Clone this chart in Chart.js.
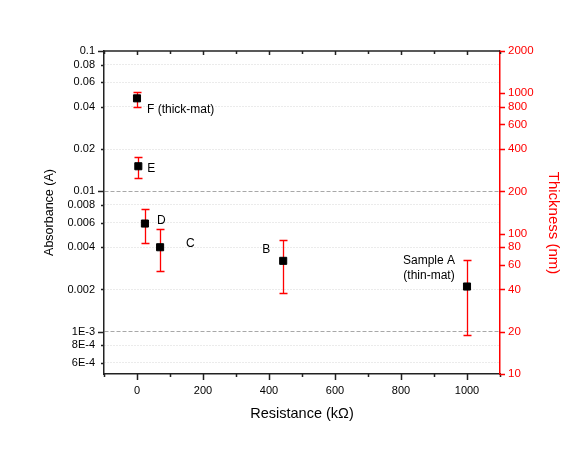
<!DOCTYPE html>
<html>
<head>
<meta charset="utf-8">
<script src="https://cdn.jsdelivr.net/npm/chart.js@4/dist/chart.umd.min.js"></script>
<style>
  html, body { margin: 0; padding: 0; background: #fff; }
  canvas { display: block; }
</style>
</head>
<body>
<canvas id="chart" width="581" height="449"></canvas>
<script>
(function () {
  'use strict';

  // ── Data ──────────────────────────────────────────────────────────────────
  var sampleNames  = ['F (thick-mat)', 'E', 'D', 'C', 'B', 'Sample A|(thin-mat)'];
  var resistance   = [0, 4, 24, 70, 443, 1000];          // kOhm
  var absorbance   = [0.046, 0.0151, 0.0059, 0.0040, 0.0032, 0.0021];
  var thickness    = [910, 300, 118, 81, 64, 42];         // nm
  var thicknessErr = [110, 50, 32, 27, 26, 23];

  var xTickValues = [-100, 0, 100, 200, 300, 400, 500, 600, 700, 800, 900, 1000, 1100];
  var xTickLabels = ['', '0', '', '200', '', '400', '', '600', '', '800', '', '1000', ''];

  var absTickValues = [0.1, 0.08, 0.06, 0.04, 0.02, 0.01, 0.008, 0.006, 0.004, 0.002, 0.001, 0.0008, 0.0006];
  var absTickLabels = ['0.1', '0.08', '0.06', '0.04', '0.02', '0.01', '0.008', '0.006', '0.004', '0.002', '1E-3', '8E-4', '6E-4'];

  var thickTickValues = [2000, 1000, 800, 600, 400, 200, 100, 80, 60, 40, 20, 10];
  var thickTickLabels = ['2000', '1000', '800', '600', '400', '200', '100', '80', '60', '40', '20', '10'];

  // ── Style ─────────────────────────────────────────────────────────────────
  var RED   = '#ff0000';
  var AXIS  = '#222222';
  var FONT  = '"Liberation Sans", Arial, Helvetica, sans-serif';
  // label placement relative to the marker: [dx, dy, align]
  var labelPlace = [[10, 11, 'left'], [9, 2, 'left'], [12, -3, 'left'], [26, -4, 'left'],
                    [-13, -11, 'right'], [-38, -26, 'center']];

  Chart.defaults.font.family = FONT;
  Chart.defaults.color = '#000';

  function isDecade(v) {
    var l = Math.log10(v);
    return Math.abs(l - Math.round(l)) < 1e-6;
  }

  function setTicks(values) {
    return function (scale) {
      scale.ticks = values.map(function (v) { return { value: v }; });
    };
  }

  // ── Plugins: error bars, tick marks, top frame, labels ───────────────────
  var decor = {
    id: 'decor',
    beforeDatasetsDraw: function (chart) {
      var ctx = chart.ctx, x = chart.scales.x, y2 = chart.scales.y2;
      resistance.forEach(function (r, i) {
        var px = Math.round(x.getPixelForValue(r)) + 0.5;
        var top = Math.round(y2.getPixelForValue(thickness[i] + thicknessErr[i])) + 0.5;
        var bot = Math.round(y2.getPixelForValue(thickness[i] - thicknessErr[i])) + 0.5;
        ctx.save();
        ctx.strokeStyle = RED;
        ctx.lineWidth = 1.3;
        ctx.setLineDash([]);
        ctx.beginPath();
        ctx.moveTo(px, top); ctx.lineTo(px, bot);
        ctx.moveTo(px - 4, top); ctx.lineTo(px + 4, top);
        ctx.moveTo(px - 4, bot); ctx.lineTo(px + 4, bot);
        ctx.stroke();
        ctx.restore();
      });
    },
    afterDatasetsDraw: function (chart) {
      var ctx = chart.ctx, x = chart.scales.x, y = chart.scales.y;
      ctx.save();
      ctx.fillStyle = '#000';
      ctx.font = '12px ' + FONT;
      ctx.textBaseline = 'middle';
      sampleNames.forEach(function (name, i) {
        var p = labelPlace[i];
        var px = x.getPixelForValue(resistance[i]) + p[0];
        var py = y.getPixelForValue(absorbance[i]) + p[1];
        ctx.textAlign = p[2];
        name.split('|').forEach(function (line, k) {
          ctx.fillText(line, px, py + k * 15);
        });
      });
      ctx.restore();
    },
    afterDraw: function (chart) {
      var ctx = chart.ctx, a = chart.chartArea;
      var x = chart.scales.x, y = chart.scales.y, y2 = chart.scales.y2;
      ctx.save();
      ctx.lineWidth = 1.5;

      // top frame line
      ctx.strokeStyle = AXIS;
      ctx.beginPath();
      ctx.moveTo(a.left, a.top); ctx.lineTo(a.right, a.top);
      ctx.stroke();

      // x ticks (bottom outward, top inward)
      ctx.beginPath();
      xTickValues.forEach(function (v) {
        var px = Math.round(x.getPixelForValue(v)) + 0.5;
        var major = v % 200 === 0;
        ctx.moveTo(px, a.bottom); ctx.lineTo(px, a.bottom + (major ? 6 : 3));
        ctx.moveTo(px, a.top); ctx.lineTo(px, a.top + (major ? 4 : 3));
      });
      // left ticks
      absTickValues.forEach(function (v) {
        var py = Math.round(y.getPixelForValue(v)) + 0.5;
        ctx.moveTo(a.left, py); ctx.lineTo(a.left - (isDecade(v) ? 6 : 3), py);
      });
      ctx.stroke();

      // right ticks
      ctx.strokeStyle = RED;
      ctx.beginPath();
      thickTickValues.forEach(function (v) {
        var py = Math.round(y2.getPixelForValue(v)) + 0.5;
        ctx.moveTo(a.right, py); ctx.lineTo(a.right + 5, py);
      });
      ctx.stroke();

      // right axis title
      ctx.fillStyle = RED;
      ctx.font = '15px ' + FONT;
      ctx.textAlign = 'center';
      ctx.textBaseline = 'middle';
      ctx.translate(553, 223);
      ctx.rotate(Math.PI / 2);
      ctx.fillText('Thickness (nm)', 0, 0);
      ctx.restore();
    }
  };

  // ── Chart ─────────────────────────────────────────────────────────────────
  new Chart(document.getElementById('chart'), {
    type: 'scatter',
    data: {
      datasets: [
        {
          label: 'Absorbance',
          data: resistance.map(function (r, i) { return { x: r, y: absorbance[i] }; }),
          yAxisID: 'y',
          pointStyle: 'rect',
          pointRadius: 5,
          backgroundColor: '#000',
          borderColor: '#000',
          borderWidth: 1
        },
        {
          label: 'Thickness',
          data: resistance.map(function (r, i) { return { x: r, y: thickness[i] }; }),
          yAxisID: 'y2',
          pointRadius: 0,
          borderColor: 'rgba(0,0,0,0)',
          backgroundColor: 'rgba(0,0,0,0)',
          showLine: false
        }
      ]
    },
    options: {
      responsive: false,
      animation: false,
      events: [],
      layout: { padding: { top: 51, left: 0, right: 0, bottom: 0 } },
      plugins: {
        legend: { display: false },
        tooltip: { enabled: false }
      },
      scales: {
        x: {
          type: 'linear',
          min: -100, max: 1100,
          afterBuildTicks: setTicks(xTickValues),
          afterFit: function (s) { s.height = 75; },
          grid: { display: false, drawTicks: false },
          border: { display: true, color: AXIS, width: 1.5 },
          ticks: {
            autoSkip: false, maxRotation: 0, padding: 10,
            font: { size: 11 }, color: '#000',
            callback: function (v, i) { return xTickLabels[i]; }
          },
          title: {
            display: true, text: 'Resistance (k\u03A9)',
            font: { size: 14.5 }, color: '#000',
            padding: { top: 0, bottom: 26 }
          }
        },
        y: {
          type: 'logarithmic',
          position: 'left',
          min: 0.0005, max: 0.1,
          afterBuildTicks: setTicks(absTickValues),
          afterFit: function (s) { s.width = 104; },
          grid: {
            drawTicks: false,
            lineWidth: 1,
            color: function (c) {
              if (!c.tick || c.tick.value >= 0.1) { return 'rgba(0,0,0,0)'; }
              return isDecade(c.tick.value) ? '#a8a8a8' : '#d6d6d6';
            }
          },
          border: {
            display: true, color: AXIS, width: 1.5,
            dash: function (c) {
              if (!c.tick) { return []; }
              return isDecade(c.tick.value) ? [4, 2] : [1, 2];
            }
          },
          ticks: {
            autoSkip: false, padding: 9,
            font: { size: 11 }, color: '#000',
            callback: function (v, i) { return absTickLabels[i]; }
          },
          title: {
            display: true, text: 'Absorbance (A)',
            font: { size: 12.5 }, color: '#000',
            padding: { top: 42, bottom: 0 }
          }
        },
        y2: {
          type: 'logarithmic',
          position: 'right',
          min: 10, max: 2000,
          afterBuildTicks: setTicks(thickTickValues),
          afterFit: function (s) { s.width = 81; },
          grid: { display: false, drawTicks: false },
          border: { display: true, color: RED, width: 1.5 },
          ticks: {
            autoSkip: false, padding: 8,
            font: { size: 11.5 }, color: RED,
            callback: function (v, i) { return thickTickLabels[i]; }
          }
        }
      }
    },
    plugins: [decor]
  });
}());
</script>
</body>
</html>
